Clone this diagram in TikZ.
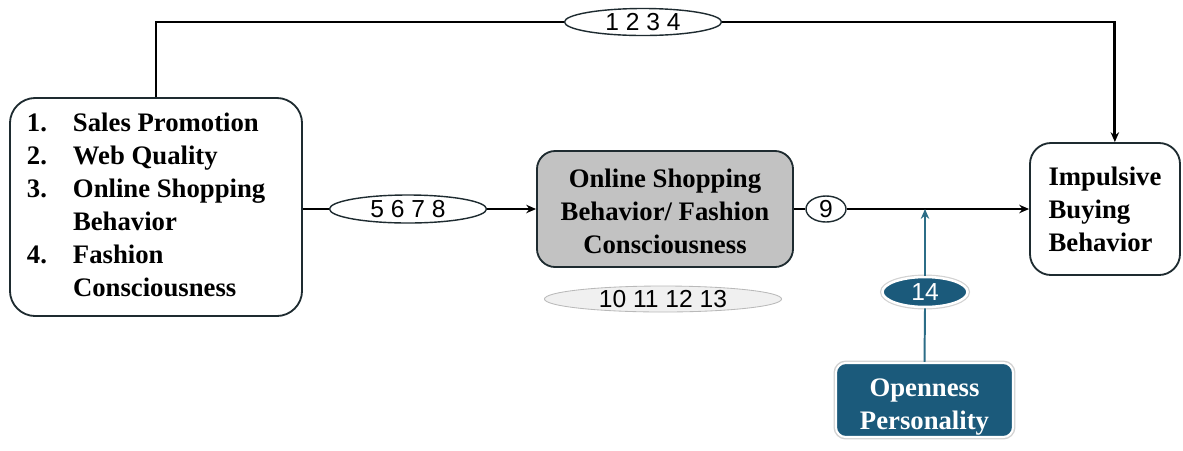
\documentclass[tikz,border=0pt]{standalone}
\usepackage{fontspec}
\setmainfont{Liberation Serif}
\newfontfamily\numfont{Liberation Sans}
\usetikzlibrary{arrows.meta, shapes.geometric, positioning}
\tikzset{>={Stealth[length=7pt,width=6pt]}}
\definecolor{tealfill}{HTML}{1B5A7B}
\definecolor{tealline}{HTML}{2C6D87}
\definecolor{boxgray}{HTML}{C2C2C2}
\definecolor{edgecol}{HTML}{1E2B30}

\begin{document}
\begin{tikzpicture}[x=0.025cm, y=-0.025cm,
    box/.style={draw=edgecol, line width=1.3pt, inner sep=0pt,
      font=\bfseries\fontsize{19}{23.5}\selectfont},
    tag/.style={ellipse, draw=edgecol, line width=1pt, fill=white, inner sep=0pt,
      font=\numfont\fontsize{17.5}{17.5}\selectfont},
    link/.style={line width=2pt},
    tlink/.style={line width=1.4pt, tealline}]
    \useasboundingbox (0,0) rectangle (1183,450);
    % boxes
    \node[box, rounded corners=18pt, minimum width=7.3cm, minimum height=5.45cm] (src) at (156,207)
      {\begin{tabular}{@{}p{1.15cm}@{}l@{\hspace{14pt}}}
        1. & Sales Promotion\\
        2. & Web Quality\\
        3. & Online Shopping\\
           & Behavior\\
        4. & Fashion\\
           & Consciousness
      \end{tabular}};
    \node[box, rounded corners=13pt, fill=boxgray, align=center, minimum width=6.4cm, minimum height=2.9cm] (osb) at (665,209)
      {\rule{0pt}{17pt}Online Shopping\\Behavior/ Fashion\\Consciousness};
    \node[box, rounded corners=15pt, align=left, minimum width=3.75cm, minimum height=3.3cm] (ibb) at (1105,209)
      {Impulsive\\Buying\\Behavior};
    \node[box, rounded corners=7pt, fill=tealfill, text=white, align=center, draw=white, line width=1.5pt,
      preaction={draw=gray!35, line width=3.5pt}, minimum width=4.425cm, minimum height=1.85cm] (open) at (924.5,400)
      {\rule{0pt}{22pt}Openness\\Personality};
    % tags
    \node[tag, minimum width=3.925cm, minimum height=0.675cm] (e1234) at (643,22) {1 2 3 4};
    \node[tag, minimum width=3.925cm, minimum height=0.7cm] (e5678) at (408,209) {5 6 7 8};
    \node[tag, minimum width=1cm, minimum height=0.65cm] (c9) at (826,209) {9};
    \node[tag, draw=gray!55, line width=0.6pt, fill=gray!12, minimum width=5.925cm, minimum height=0.65cm] (e10) at (663,299) {10 11 12 13};
    \node[tag, fill=tealfill, text=white, draw=white, line width=1.8pt, preaction={draw=gray!35, line width=3.5pt},
      minimum width=2.125cm, minimum height=0.75cm] (e14) at (925,292) {14};
    \coordinate (mod) at (e14 |- c9);
    % connectors
    \draw[link] (src.north) |- (e1234.west);
    \draw[link, ->] (e1234.east) -| ([xshift=7]ibb.north);
    \draw[link] (src.east |- e5678) -- (e5678.west);
    \draw[link, ->] (e5678.east) -- (osb.west);
    \draw[link] (osb.east) -- (c9.west);
    \draw[line width=1.4pt, ->] (c9.east) -- (ibb.west);
    \draw[tlink] (open.north) -- (e14.south);
    \draw[tlink, ->] (e14.north) -- (mod);
\end{tikzpicture}
\end{document}
